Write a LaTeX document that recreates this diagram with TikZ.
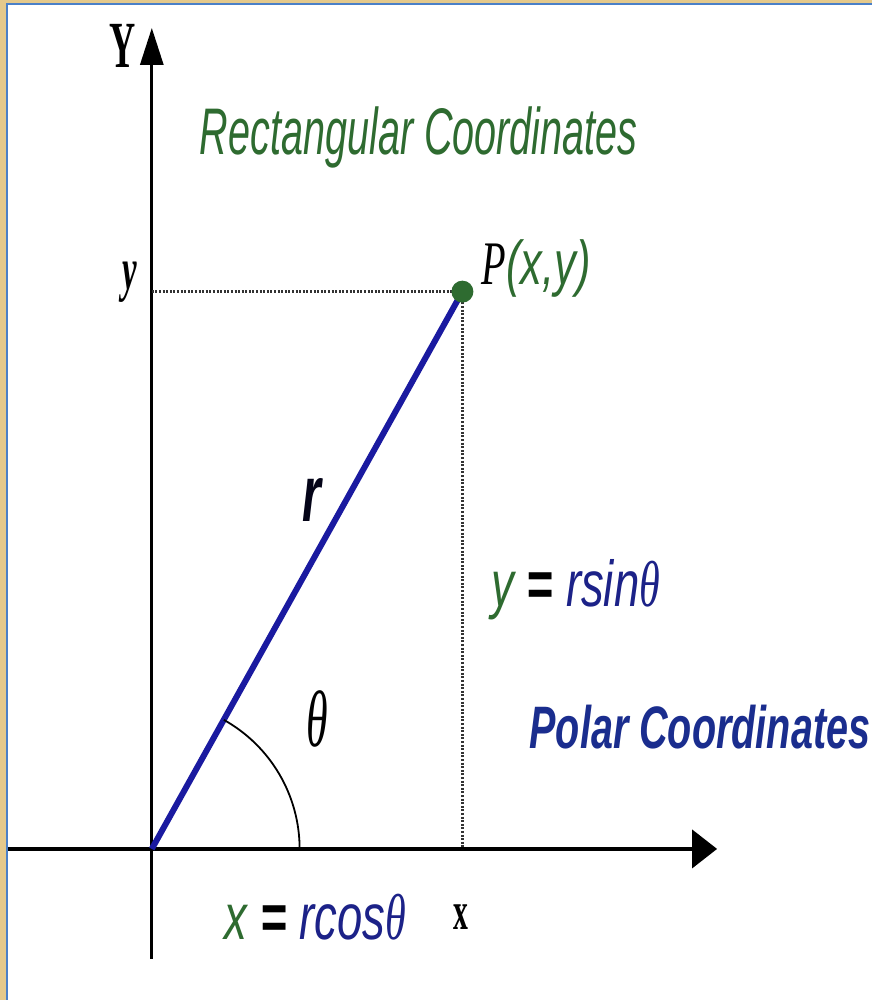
\documentclass[tikz,border=0pt]{standalone}
\usepackage{xcolor}
\usepackage{fontspec}
\usepackage{tikz}
\usetikzlibrary{arrows.meta,positioning}

\newfontfamily\narrowsans[FakeStretch=0.6]{Liberation Sans}
\newfontfamily\eqsans[FakeStretch=0.7]{Liberation Sans}
\newfontfamily\polarsans[FakeStretch=0.66]{Liberation Sans}
\newfontfamily\narrowserif[FakeStretch=0.55]{Liberation Serif}
\newfontfamily\eqserif[FakeStretch=0.65]{Liberation Serif}

\definecolor{framebeige}{HTML}{E4C98C}
\definecolor{frameblue}{HTML}{4A80C8}
\definecolor{coordgreen}{HTML}{2E6B30}
\definecolor{coordnavy}{HTML}{1C2288}
\definecolor{polarblue}{HTML}{1A2D8E}
\definecolor{radiusblue}{HTML}{1A1AA0}

\begin{document}
\begin{tikzpicture}[
    x=1pt, y=1pt,
    axis/.style={black, line width=3pt},
    guide/.style={black!80, line width=2.4pt, dash pattern=on 2pt off 1.6pt},
    radius line/.style={radiusblue, line width=6pt},
    title/.style={inner sep=0, font=\fontsize{66}{66}\narrowsans\itshape},
    eqn/.style={inner sep=0, font=\fontsize{65}{65}\eqsans\itshape},
    serifbox/.style={inner sep=0, font=\fontsize{66}{66}\narrowserif\bfseries}
]

% Frame
\fill[white] (0,0) rectangle (873,1001);
\fill[framebeige] (0,0) rectangle (6,1001);
\fill[framebeige] (0,998) rectangle (873,1001);
\draw[frameblue, line width=2.5pt] (7,0) -- (7,997) -- (873,997);
\useasboundingbox (0,0) rectangle (873,1001);

% Points
\coordinate (origin) at (152,151);
\coordinate (ytip) at (152,973);
\coordinate (ybot) at (152,41);
\coordinate (xleft) at (8,151);
\coordinate (xtip) at (718,151);
\coordinate (pt) at (463,709);
\coordinate (yfoot) at (152,709);
\coordinate (xfoot) at (463,151);

% Axes
\draw[axis, -{Triangle[length=37pt,width=23pt]}] (ybot) -- (ytip);
\draw[axis, line width=4pt, -{Triangle[length=25pt,width=38pt]}] (xleft) -- (xtip);

% Dotted guides
\draw[guide] (yfoot) -- (pt);
\draw[guide] (pt) -- (xfoot);

% Radius and angle
\draw[radius line] (origin) -- (pt);
\draw[black, line width=1.8pt] (origin) ++(0:148) arc[start angle=0, end angle=60.8, radius=148];
\node[circle, fill=coordgreen, minimum size=22pt, inner sep=0] (pdot) at (pt) {};

% Axis labels
\node[serifbox] (ylabel) at (123,955) {Y};
\node[serifbox, font=\fontsize{60}{60}\narrowserif\bfseries\itshape] (ymark) at (130,718) {y};
\node[serifbox, font=\fontsize{54}{54}\narrowserif\bfseries] (xmark) at (461,83) {x};

% Titles
\node[title, text=coordgreen, anchor=base west] (rect) at (200,846) {Rectangular Coordinates};
\node[title, text=polarblue, anchor=base west, font=\fontsize{60}{60}\polarsans\bfseries\itshape] (polar) at (530,252) {Polar Coordinates};

% Point label
\node[eqn, anchor=base west, font=\fontsize{62}{62}\eqsans\itshape] (plabel) at (482,716) {{\eqserif\itshape P}\textcolor{coordgreen}{(x,y)}};

% Radius and angle labels
\node[eqn, text=black!85!radiusblue, font=\fontsize{80}{80}\narrowsans\bfseries\itshape] (rlabel) at (312,500) {r};
\node[serifbox, font=\fontsize{80}{80}\narrowserif\itshape] (theta) at (318,281) {θ};

% Equations
\node[eqn, anchor=base west] (yeq) at (492,394) {\textcolor{coordgreen}{y} {\bfseries=} \textcolor{coordnavy}{rsin{\eqserif θ}}};
\node[eqn, anchor=base west] (xeq) at (225,60) {\textcolor{coordgreen}{x} {\bfseries=} \textcolor{coordnavy}{rcos{\eqserif θ}}};

\end{tikzpicture}
\end{document}
